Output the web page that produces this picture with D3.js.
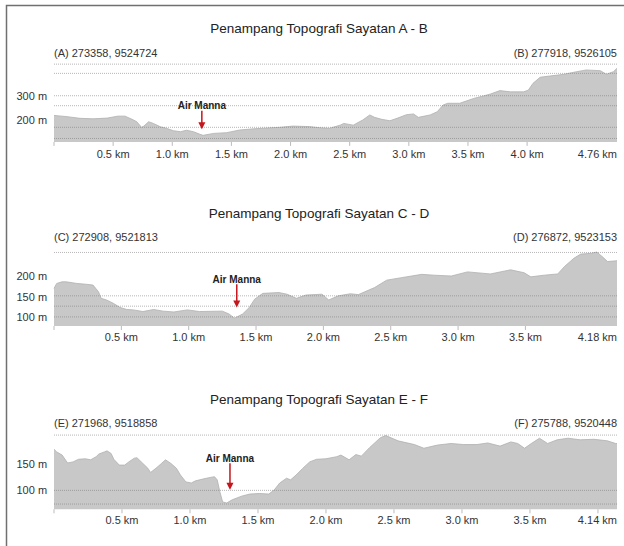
<!DOCTYPE html>
<html>
<head>
<meta charset="utf-8">
<script src="https://cdn.jsdelivr.net/npm/d3@7"></script>
<style>
  body { margin: 0; background: #fff; }
  svg { display: block; font-family: "Liberation Sans", Arial, sans-serif; }
</style>
</head>
<body>
<div id="chart"></div>
<script>
// ---- data (distance in km, elevation in m) ----
const distAB = [0, 0.11, 0.22, 0.33, 0.45, 0.54, 0.60, 0.66, 0.70, 0.74, 0.76, 0.80, 0.84, 0.90, 0.95, 1.01, 1.07, 1.12, 1.18, 1.23, 1.26, 1.35, 1.46, 1.57, 1.69, 1.80, 1.91, 2.02, 2.16, 2.25, 2.33, 2.42, 2.45, 2.53, 2.61, 2.67, 2.71, 2.77, 2.84, 2.90, 2.98, 3.04, 3.08, 3.18, 3.24, 3.29, 3.33, 3.43, 3.49, 3.55, 3.63, 3.69, 3.77, 3.86, 3.97, 4.01, 4.05, 4.11, 4.19, 4.31, 4.42, 4.50, 4.62, 4.67, 4.73, 4.76];
const elevAB = [219, 214, 207, 205, 208, 216, 216, 203, 193, 170, 175, 193, 186, 172, 166, 156, 152, 158, 152, 142, 137, 145, 148, 159, 164, 167, 170, 175, 173, 168, 166, 179, 186, 179, 200, 221, 211, 203, 197, 207, 222, 225, 211, 221, 234, 262, 269, 269, 279, 289, 299, 307, 321, 316, 316, 323, 351, 376, 381, 388, 399, 406, 403, 388, 399, 413];

const distCD = [0, 0.02, 0.06, 0.09, 0.17, 0.24, 0.29, 0.33, 0.35, 0.39, 0.44, 0.49, 0.54, 0.59, 0.66, 0.74, 0.81, 0.89, 0.99, 1.08, 1.25, 1.30, 1.34, 1.40, 1.45, 1.49, 1.55, 1.67, 1.73, 1.80, 1.87, 1.99, 2.04, 2.11, 2.20, 2.26, 2.38, 2.47, 2.58, 2.73, 2.82, 2.95, 3.07, 3.24, 3.39, 3.49, 3.54, 3.64, 3.74, 3.79, 3.86, 3.91, 3.99, 4.03, 4.07, 4.11, 4.18];
const elevCD = [170, 182, 186, 186, 182, 180, 178, 162, 146, 142, 134, 124, 119, 118, 114, 119, 115, 113, 118, 114, 115, 108, 98, 108, 124, 144, 158, 160, 156, 146, 154, 156, 142, 152, 157, 155, 172, 190, 196, 204, 202, 200, 210, 205, 215, 208, 198, 202, 205, 223, 243, 253, 255, 258, 247, 235, 237];

const distEF = [0, 0.02, 0.06, 0.10, 0.14, 0.18, 0.23, 0.27, 0.31, 0.33, 0.37, 0.39, 0.42, 0.44, 0.48, 0.52, 0.55, 0.59, 0.61, 0.65, 0.69, 0.71, 0.75, 0.79, 0.82, 0.86, 0.90, 0.93, 0.97, 1.01, 1.04, 1.12, 1.18, 1.20, 1.22, 1.24, 1.27, 1.31, 1.38, 1.44, 1.51, 1.58, 1.62, 1.66, 1.71, 1.74, 1.78, 1.83, 1.88, 1.93, 2.00, 2.08, 2.11, 2.17, 2.22, 2.26, 2.32, 2.40, 2.44, 2.53, 2.65, 2.72, 2.82, 2.92, 3.01, 3.11, 3.19, 3.28, 3.36, 3.41, 3.46, 3.51, 3.57, 3.63, 3.70, 3.78, 3.87, 3.97, 4.07, 4.13, 4.14];
const elevEF = [178, 173, 167, 152, 154, 159, 160, 158, 164, 169, 173, 175, 170, 159, 148, 148, 154, 161, 162, 152, 142, 134, 142, 151, 158, 151, 142, 129, 116, 114, 118, 123, 126, 120, 97, 78, 76, 82, 89, 93, 94, 93, 101, 114, 123, 120, 129, 142, 154, 159, 160, 164, 167, 158, 168, 165, 181, 200, 204, 194, 187, 180, 186, 189, 187, 187, 190, 184, 192, 189, 180, 189, 199, 189, 196, 199, 196, 197, 194, 189, 189];

// titles and end-point coordinates
const titles = ['Penampang Topografi Sayatan A - B', 'Penampang Topografi Sayatan C - D', 'Penampang Topografi Sayatan E - F'];
const startLabels = ['(A) 273358, 9524724', '(C) 272908, 9521813', '(E) 271968, 9518858'];
const endLabels = ['(B) 277918, 9526105', '(D) 276872, 9523153', '(F) 275788, 9520448'];
const totalKm = [4.76, 4.18, 4.14];

// axis ticks
const yTicksAB = [300, 200];
const yTicksCD = [200, 150, 100];
const yTicksEF = [150, 100];
const xTicksAB = [0.5, 1.0, 1.5, 2.0, 2.5, 3.0, 3.5, 4.0];
const xTicksCD = [0.5, 1.0, 1.5, 2.0, 2.5, 3.0, 3.5];
const xTicksEF = [0.5, 1.0, 1.5, 2.0, 2.5, 3.0, 3.5];
const tickMarksEF = [0, 0.5, 1.0, 1.5, 2.0, 2.5, 3.0, 3.5, 4.0];

// dotted reference lines (m)
const gridAB = [430, 392, 300, 259, 170, 124];
const gridCD = [257, 152, 127, 101];
const gridEF = [205, 100, 74];

// river marker: km along profile, label elevation, arrow tip elevation
const riverName = 'Air Manna';
const riverKm = [1.25, 1.357, 1.294];
const riverLabelElev = [259, 192, 161];
const riverTipElev = [162, 124, 101];

const panels = [
    { dist: distAB, elev: elevAB, yTicks: yTicksAB, xTicks: xTicksAB, marks: [0].concat(xTicksAB), grid: gridAB },
    { dist: distCD, elev: elevCD, yTicks: yTicksCD, xTicks: xTicksCD, marks: [0].concat(xTicksCD), grid: gridCD },
    { dist: distEF, elev: elevEF, yTicks: yTicksEF, xTicks: xTicksEF, marks: tickMarksEF, grid: gridEF }
];

// pixel layout of each panel
const layout = [
    { title: 32.8, coord: 57.2, top: 61.7, bottom: 141.9, yDomain: [110, 440], axis: 158.2 },
    { title: 217.8, coord: 241.2, top: 250.4, bottom: 326, yDomain: [79, 262], axis: 341.2 },
    { title: 403.8, coord: 427.2, top: 429.8, bottom: 509.3, yDomain: [64, 215], axis: 523.9 }
];

const left = 54, right = 617;

var svg = d3.select('#chart').append('svg')
    .attr('width', 624)
    .attr('height', 546);

// outer frame (top and left edges only)
svg.append('path')
    .attr('d', 'M6.5,546V5.5H624')
    .attr('fill', 'none')
    .attr('stroke', '#707070')
    .attr('stroke-width', 1.5);

panels.forEach(function(p, i) {
    var L = layout[i];
    var g = svg.append('g');

    var x = d3.scaleLinear().domain([0, totalKm[i]]).range([left, right]);
    var y = d3.scaleLinear().domain(L.yDomain).range([L.bottom, L.top]);

    var pts = p.dist.map((d, j) => [d, p.elev[j]]);

    // title + end point labels
    g.append('text')
        .attr('x', 319).attr('y', L.title)
        .attr('text-anchor', 'middle')
        .attr('font-size', 13.5)
        .attr('fill', '#222')
        .text(titles[i]);

    g.append('text')
        .attr('x', left).attr('y', L.coord)
        .attr('font-size', 11)
        .attr('fill', '#333')
        .text(startLabels[i]);

    g.append('text')
        .attr('x', right).attr('y', L.coord)
        .attr('text-anchor', 'end')
        .attr('font-size', 11)
        .attr('fill', '#333')
        .text(endLabels[i]);

    // terrain
    var area = d3.area()
        .x(d => x(d[0]))
        .y0(L.bottom)
        .y1(d => y(d[1]));

    g.append('path')
        .datum(pts)
        .attr('d', area)
        .attr('fill', '#c8c8c8');

    g.append('path')
        .datum(pts)
        .attr('d', d3.line().x(d => x(d[0])).y(d => y(d[1])))
        .attr('fill', 'none')
        .attr('stroke', '#b0b0b0')
        .attr('stroke-width', 0.8);

    // dotted reference lines
    g.selectAll('.grid')
        .data(p.grid)
        .enter().append('line')
        .attr('x1', left).attr('x2', right)
        .attr('y1', d => y(d)).attr('y2', d => y(d))
        .attr('stroke', '#7a7a7a')
        .attr('stroke-opacity', 0.55)
        .attr('stroke-dasharray', '1,1');

    // y labels
    g.selectAll('.ylab')
        .data(p.yTicks)
        .enter().append('text')
        .attr('x', 16.5)
        .attr('y', d => y(d) + 3.9)
        .attr('font-size', 11)
        .attr('fill', '#333')
        .text(d => d + ' m');

    // x tick marks and labels
    g.selectAll('.tick')
        .data(p.marks)
        .enter().append('line')
        .attr('x1', d => x(d)).attr('x2', d => x(d))
        .attr('y1', L.bottom).attr('y2', L.bottom + 4)
        .attr('stroke', '#bbb');

    g.selectAll('.xlab')
        .data(p.xTicks)
        .enter().append('text')
        .attr('x', d => x(d))
        .attr('y', L.axis)
        .attr('text-anchor', 'middle')
        .attr('font-size', 11)
        .attr('fill', '#333')
        .text(d => d3.format('.1f')(d) + ' km');

    g.append('text')
        .attr('x', right)
        .attr('y', L.axis)
        .attr('text-anchor', 'end')
        .attr('font-size', 11)
        .attr('fill', '#333')
        .text(totalKm[i] + ' km');

    // river marker
    var rx = x(riverKm[i]);
    var ly = y(riverLabelElev[i]);
    var tip = y(riverTipElev[i]);
    g.append('text')
        .attr('x', rx).attr('y', ly + 3.5)
        .attr('text-anchor', 'middle')
        .attr('font-size', 10)
        .attr('font-weight', 'bold')
        .attr('fill', '#222')
        .text(riverName);

    g.append('line')
        .attr('x1', rx).attr('x2', rx)
        .attr('y1', ly + 5)
        .attr('y2', tip - 6)
        .attr('stroke', '#c4161c')
        .attr('stroke-width', 1.5);

    g.append('path')
        .attr('d', 'M' + (rx - 3.5) + ',' + (tip - 7) + 'L' + (rx + 3.5) + ',' + (tip - 7) + 'L' + rx + ',' + tip + 'Z')
        .attr('fill', '#c4161c');
});
</script>
</body>
</html>
